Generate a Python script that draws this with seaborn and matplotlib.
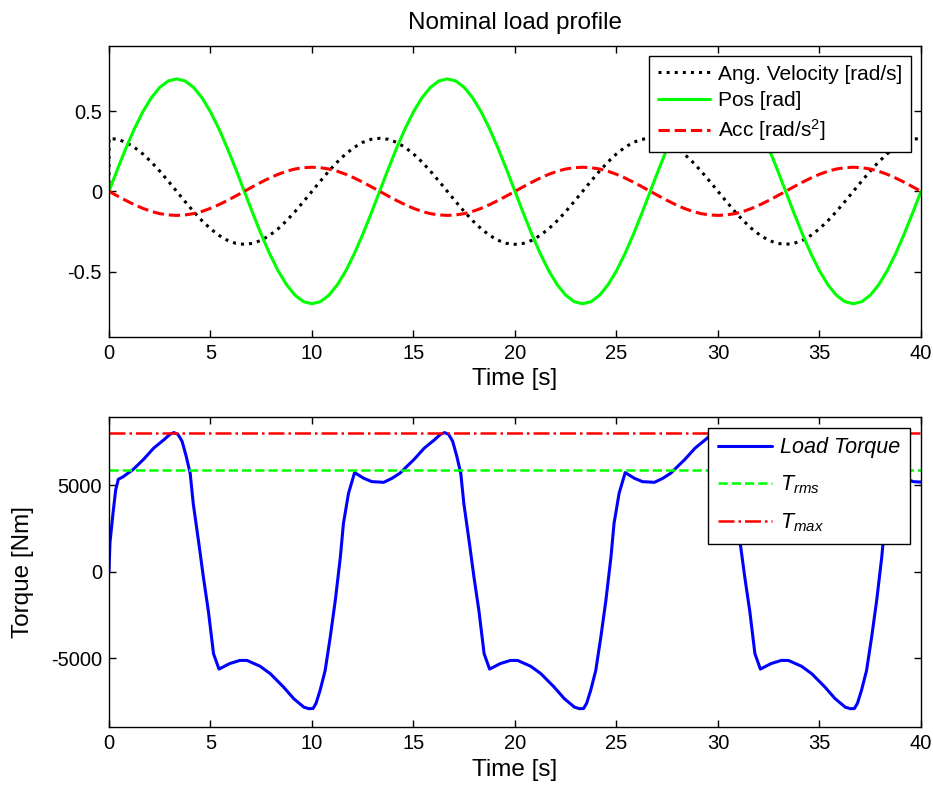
import numpy as np
import seaborn as sns
import matplotlib
matplotlib.use('Agg')
import matplotlib.pyplot as plt

# sample instants for the motion signals (every 5/12 s, 32 samples per period)
time = np.linspace(0, 40, 97)

pos = [0, .137, .268, .389, .495, .582, .647, .687, .700, .687, .647, .582, .495, .389, .268, .137,
       0, -.137, -.268, -.389, -.495, -.582, -.647, -.687, -.700, -.687, -.647, -.582, -.495, -.389, -.268, -.137,
       0, .137, .268, .389, .495, .582, .647, .687, .700, .687, .647, .582, .495, .389, .268, .137,
       0, -.137, -.268, -.389, -.495, -.582, -.647, -.687, -.700, -.687, -.647, -.582, -.495, -.389, -.268, -.137,
       0, .137, .268, .389, .495, .582, .647, .687, .700, .687, .647, .582, .495, .389, .268, .137,
       0, -.137, -.268, -.389, -.495, -.582, -.647, -.687, -.700, -.687, -.647, -.582, -.495, -.389, -.268, -.137,
       0]

# velocity starts at 0 and jumps to its initial value at t=0
vel_time = np.concatenate([[0.0], time])
vel = [0.0,
       .330, .324, .305, .274, .233, .183, .126, .064, 0, -.064, -.126, -.183, -.233, -.274, -.305, -.324,
       -.330, -.324, -.305, -.274, -.233, -.183, -.126, -.064, 0, .064, .126, .183, .233, .274, .305, .324,
       .330, .324, .305, .274, .233, .183, .126, .064, 0, -.064, -.126, -.183, -.233, -.274, -.305, -.324,
       -.330, -.324, -.305, -.274, -.233, -.183, -.126, -.064, 0, .064, .126, .183, .233, .274, .305, .324,
       .330, .324, .305, .274, .233, .183, .126, .064, 0, -.064, -.126, -.183, -.233, -.274, -.305, -.324,
       -.330, -.324, -.305, -.274, -.233, -.183, -.126, -.064, 0, .064, .126, .183, .233, .274, .305, .324,
       .330]

acc = [0, -.029, -.057, -.083, -.106, -.125, -.139, -.147, -.150, -.147, -.139, -.125, -.106, -.083, -.057, -.029,
       0, .029, .057, .083, .106, .125, .139, .147, .150, .147, .139, .125, .106, .083, .057, .029,
       0, -.029, -.057, -.083, -.106, -.125, -.139, -.147, -.150, -.147, -.139, -.125, -.106, -.083, -.057, -.029,
       0, .029, .057, .083, .106, .125, .139, .147, .150, .147, .139, .125, .106, .083, .057, .029,
       0, -.029, -.057, -.083, -.106, -.125, -.139, -.147, -.150, -.147, -.139, -.125, -.106, -.083, -.057, -.029,
       0, .029, .057, .083, .106, .125, .139, .147, .150, .147, .139, .125, .106, .083, .057, .029,
       0]

# load torque
torque_time = [0.0, 0.05, 0.2, 0.33, 0.46, 0.7, 1.2, 1.7, 2.2, 2.7, 3.0, 3.2, 3.4, 3.6, 3.8, 4.0, 4.15, 4.45,
               4.65, 4.9, 5.15, 5.42, 5.95, 6.45, 6.8, 7.45, 7.95, 8.6, 9.1, 9.6, 9.85, 10.05, 10.2, 10.4,
               10.65, 10.9, 11.15, 11.4, 11.55, 11.8, 12.1, 12.55, 12.95,
               13.33, 13.53, 13.93, 14.33, 14.53, 15.03, 15.53, 16.03, 16.33, 16.53, 16.73, 16.93, 17.13,
               17.33, 17.48, 17.78, 17.98, 18.23, 18.48, 18.75, 19.28, 19.78, 20.13, 20.78, 21.28, 21.93,
               22.43, 22.93, 23.18, 23.38, 23.53, 23.73, 23.98, 24.23, 24.48, 24.73, 24.88, 25.13, 25.43,
               25.88, 26.28,
               26.67, 26.87, 27.27, 27.67, 27.87, 28.37, 28.87, 29.37, 29.67, 29.87, 30.07, 30.27, 30.47,
               30.67, 30.82, 31.12, 31.32, 31.57, 31.82, 32.09, 32.62, 33.12, 33.47, 34.12, 34.62, 35.27,
               35.77, 36.27, 36.52, 36.72, 36.87, 37.07, 37.32, 37.57, 37.82, 38.07, 38.22, 38.47, 38.77,
               39.22, 39.62, 40.0]
torque = [0, 1700, 3400, 4730, 5350, 5500, 5930, 6500, 7150, 7630, 7950, 8050, 7950, 7550, 6700, 5700, 3960, 1450,
          -300, -2300, -4730, -5620, -5300, -5120, -5120, -5460, -5890, -6660, -7330, -7820, -7910, -7900, -7600, -6850,
          -5700, -3770, -1640, 870, 2800, 4540, 5740, 5410, 5215,
          5190, 5175, 5400, 5700, 5930, 6500, 7150, 7630, 7950, 8050, 7950, 7550, 6700,
          5700, 3960, 1450, -300, -2300, -4730, -5620, -5300, -5120, -5120, -5460, -5890, -6660,
          -7330, -7820, -7910, -7900, -7600, -6850, -5700, -3770, -1640, 870, 2800, 4540, 5740,
          5410, 5215,
          5190, 5175, 5400, 5700, 5930, 6500, 7150, 7630, 7950, 8050, 7950, 7550, 6700,
          5700, 3960, 1450, -300, -2300, -4730, -5620, -5300, -5120, -5120, -5460, -5890, -6660,
          -7330, -7820, -7910, -7900, -7600, -6850, -5700, -3770, -1640, 870, 2800, 4540, 5740,
          5410, 5215, 5190]

t_rms = 5900
t_max = 8050
t_span = [0, 40]

sns.set_theme(style='ticks')
plt.rcParams['font.family'] = ['Liberation Sans', 'DejaVu Sans']
plt.rcParams['mathtext.fontset'] = 'custom'
plt.rcParams['mathtext.rm'] = 'Liberation Sans'
plt.rcParams['mathtext.it'] = 'Liberation Sans:italic'
plt.rcParams['axes.unicode_minus'] = False
plt.rcParams['axes.edgecolor'] = 'black'
plt.rcParams['axes.linewidth'] = 1.0
plt.rcParams['text.color'] = 'black'
plt.rcParams['axes.labelcolor'] = 'black'
plt.rcParams['xtick.color'] = 'black'
plt.rcParams['ytick.color'] = 'black'

fig = plt.figure(figsize=(9.33, 7.87), dpi=100)
ax1 = fig.add_axes([0.1168, 0.5718, 0.8703, 0.3698])
ax2 = fig.add_axes([0.1168, 0.0762, 0.8703, 0.3939])

# top: motion profile
sns.lineplot(x=vel_time, y=vel, ax=ax1, color='black', linestyle=':', linewidth=2.2,
             estimator=None, sort=False, label='Ang. Velocity [rad/s]')
sns.lineplot(x=time, y=pos, ax=ax1, color='#00ff00', linewidth=2.2,
             estimator=None, sort=False, label='Pos [rad]')
sns.lineplot(x=time, y=acc, ax=ax1, color='#ff0000', linestyle='--', linewidth=2.2,
             estimator=None, sort=False, label='Acc [rad/s$^2$]')
ax1.set_xlim(0, 40)
ax1.set_ylim(-0.907, 0.905)
ax1.set_yticks([-0.5, 0, 0.5])
ax1.set_yticklabels(['-0.5', '0', '0.5'])
ax1.set_title('Nominal load profile', fontsize=17.5, pad=12, color='black')
ax1.set_xlabel('Time [s]', fontsize=17.5, labelpad=4)
ax1.set_ylabel('')
ax1.legend(loc='upper right', fontsize=15, fancybox=False, edgecolor='black', framealpha=1,
           handlelength=2.5, handletextpad=0.4, borderaxespad=0.5, labelspacing=0.35)

# bottom: torque
sns.lineplot(x=torque_time, y=torque, ax=ax2, color='#0000ff', linewidth=2.2,
             estimator=None, sort=False, label='Load Torque')
sns.lineplot(x=t_span, y=[t_rms, t_rms], ax=ax2, color='#00ff00', linestyle='--', linewidth=1.8,
             estimator=None, sort=False, label='$T_{rms}$')
sns.lineplot(x=t_span, y=[t_max, t_max], ax=ax2, color='#ff0000', linestyle='-.', linewidth=1.8,
             estimator=None, sort=False, label='$T_{max}$')
ax2.set_xlim(0, 40)
ax2.set_ylim(-8970, 8950)
ax2.set_yticks([-5000, 0, 5000])
ax2.set_yticklabels(['-5000', '0', '5000'])
ax2.set_xlabel('Time [s]', fontsize=17.5, labelpad=4)
ax2.set_ylabel('Torque [Nm]', fontsize=17.5, labelpad=12)
ax2.legend(loc='upper right', fancybox=False, edgecolor='black', framealpha=1,
           handlelength=2.5, handletextpad=0.4, borderaxespad=0.5, labelspacing=0.7,
           borderpad=0.45, prop={'style': 'italic', 'size': 15.5})

for ax in (ax1, ax2):
    ax.set_xticks(range(0, 41, 5))
    ax.tick_params(direction='in', top=True, right=True, length=5, width=1,
                   labelsize=14.5, pad=5, colors='black')
    for s in ax.spines.values():
        s.set_visible(True)
        s.set_color('black')

fig.savefig('out.png', dpi=100)
